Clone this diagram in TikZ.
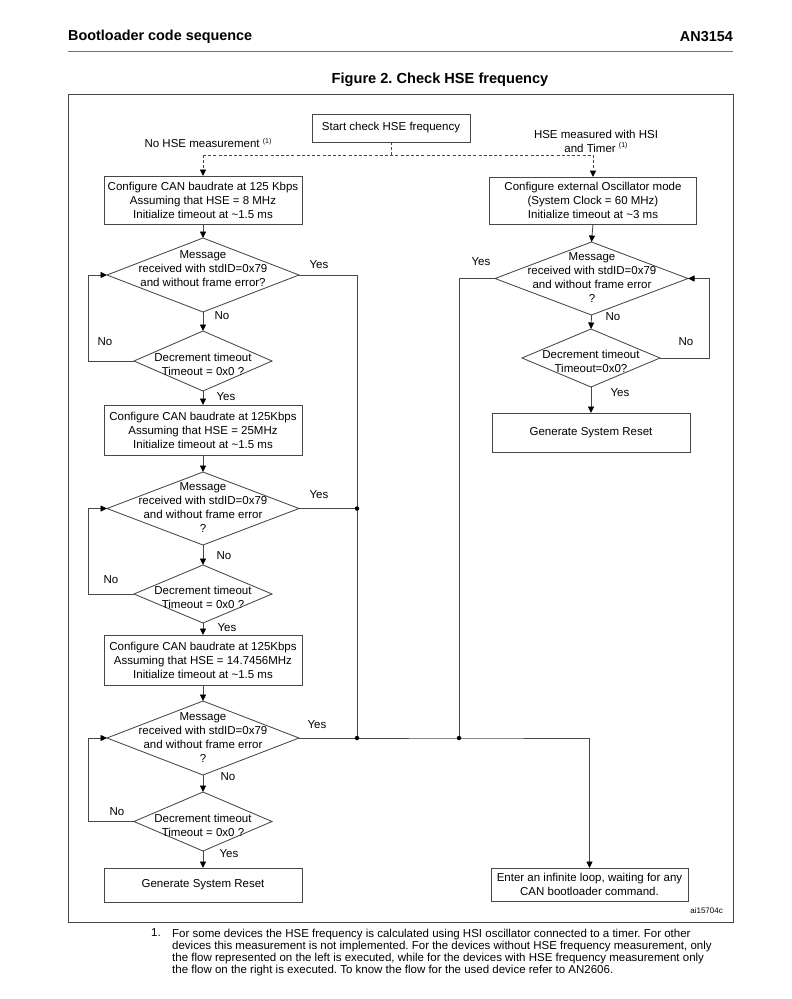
\documentclass[tikz,border=0pt]{standalone}
\usepackage{fontspec}
\setmainfont{Liberation Sans}
\usetikzlibrary{shapes.geometric,arrows.meta}
\frenchspacing
\newcommand\dfont{\fontsize{11.5}{14}\selectfont}
\newcommand\supone{{\fontsize{7}{8}\selectfont\raisebox{4.5pt}{(1)}}}
\begin{document}
\begin{tikzpicture}[x=1pt,y=-1pt,
  ln/.style={draw=black!72, line width=0.85pt},
  tip/.style={-{Triangle[length=6.5pt,width=6pt,fill=black,color=black]}},
  arr/.style={ln, tip},
  dashln/.style={ln, dash pattern=on 3pt off 2.2pt},
  dasharr/.style={dashln, tip},
  box/.style={draw=black!72, line width=0.85pt, rectangle, inner sep=0pt, outer sep=0pt, align=center, font=\dfont, minimum width=198pt},
  dia/.style={draw=black!72, line width=0.85pt, diamond, inner sep=0pt, outer sep=0pt},
  txt/.style={inner sep=0pt, align=center, font=\dfont},
  lab/.style={inner sep=0pt, font=\dfont},
  dot/.style={circle, fill=black, inner sep=0pt, minimum size=4.5pt}
]
\useasboundingbox (0,0) rectangle (792,999);
\fill[white] (0,0) rectangle (792,999);

% header
\node[inner sep=0pt, anchor=west, font=\fontsize{14.4}{16}\selectfont\bfseries] (hdl) at (68,37) {Bootloader code sequence};
\node[inner sep=0pt, anchor=east, font=\fontsize{14.4}{16}\selectfont\bfseries] (hdr) at (733,37) {AN3154};
\draw[draw=black!55, line width=0.9pt] (68,51) -- (733,51);
\node[inner sep=0pt, font=\fontsize{14.6}{16}\selectfont\bfseries] (title) at (440,80) {Figure 2. Check HSE frequency};
\draw[draw=black!72, line width=0.85pt] (68,94) rectangle (733,922);

% start
\node[box, minimum width=158pt, minimum height=28pt] (start) at (391,128) {Start check HSE frequency};
\node[lab] (nohse) at (208,143) {No HSE measurement \supone};
\node[txt] (hsem) at (596,141) {HSE measured with HSI\\and Timer \supone};

% left column
\node[box, minimum height=48pt] (b1) at (203,200) {Configure CAN baudrate at 125 Kbps\\Assuming that HSE = 8 MHz\\Initialize timeout at \textasciitilde1.5 ms};
\node[dia, minimum width=192pt, minimum height=74pt] (d1) at (203,275) {};
\node[txt] (d1t) at (203,269) {Message\\received with stdID=0x79\\and without frame error?};
\node[dia, minimum width=138pt, minimum height=60pt] (c1) at (203,361) {};
\node[txt] (c1t) at (203,364) {Decrement timeout\\Timeout = 0x0 ?};

\node[box, minimum height=50pt] (b2) at (203,430) {Configure CAN baudrate at 125Kbps\\Assuming that HSE = 25MHz\\Initialize timeout at \textasciitilde1.5 ms};
\node[dia, minimum width=192pt, minimum height=73pt] (d2) at (203,508.5) {};
\node[txt] (d2t) at (203,508) {Message\\received with stdID=0x79\\and without frame error\\?};
\node[dia, minimum width=138pt, minimum height=58pt] (c2) at (203,594) {};
\node[txt] (c2t) at (203,597) {Decrement timeout\\Timeout = 0x0 ?};

\node[box, minimum height=50pt] (b3) at (203,660) {Configure CAN baudrate at 125Kbps\\Assuming that HSE = 14.7456MHz\\Initialize timeout at \textasciitilde1.5 ms};
\node[dia, minimum width=192pt, minimum height=74pt] (d3) at (203,738) {};
\node[txt] (d3t) at (203,738) {Message\\received with stdID=0x79\\and without frame error\\?};
\node[dia, minimum width=138pt, minimum height=59pt] (c3) at (203,821.5) {};
\node[txt] (c3t) at (203,825) {Decrement timeout\\Timeout = 0x0 ?};
\node[box, minimum height=34pt] (rl) at (203,885) {Generate System Reset};

% right column
\node[box, minimum width=207pt, minimum height=47pt] (r1) at (593,200.5) {Configure external Oscillator mode\\(System Clock = 60 MHz)\\Initialize timeout at \textasciitilde3 ms};
\node[dia, minimum width=193pt, minimum height=73pt] (dr) at (591.5,278.5) {};
\node[txt] (drt) at (592,278) {Message\\received with stdID=0x79\\and without frame error\\?};
\node[dia, minimum width=138pt, minimum height=58pt] (cr) at (591,358) {};
\node[txt] (crt) at (591,361) {Decrement timeout\\Timeout=0x0?};
\node[box, minimum height=39pt] (rr) at (591,432.5) {Generate System Reset};
\node[box, minimum width=197pt, minimum height=33pt] (inf) at (589.5,884.5) {Enter an infinite loop, waiting for any\\CAN bootloader command.};

\node[inner sep=0pt, anchor=east, font=\fontsize{8}{9}\selectfont] (ai) at (723,911) {ai15704c};

% coordinates
\coordinate (jt) at (391,155);
\coordinate (jl) at (203,155);
\coordinate (jr) at (593,155);
\coordinate (lx) at (88,0);
\coordinate (rx) at (709,0);
\coordinate (ja) at (357,738);
\coordinate (jb) at (459,738);
\coordinate (jm) at (357,508.5);

% dashed start
\draw[dashln] (start.south) -- (jt);
\draw[dashln] (jl) -- (jr);
\draw[dasharr] (jl) -- (b1.north);
\draw[dasharr] (jr) -- (r1.north);

% left flow
\draw[arr] (b1.south) -- (d1.north);
\draw[arr] (d1.south) -- (c1.north);
\draw[arr] (c1.south) -- (b2.north);
\draw[arr] (b2.south) -- (d2.north);
\draw[arr] (d2.south) -- (c2.north);
\draw[arr] (c2.south) -- (b3.north);
\draw[arr] (b3.south) -- (d3.north);
\draw[arr] (d3.south) -- (c3.north);
\draw[arr] (c3.south) -- (rl.north);
\draw[arr] (c1.west) -- (c1.west -| lx) |- (d1.west);
\draw[arr] (c2.west) -- (c2.west -| lx) |- (d2.west);
\draw[arr] (c3.west) -- (c3.west -| lx) |- (d3.west);
\draw[ln] (d1.east) -| (ja);
\draw[ln] (d2.east) -- (jm);
\draw[ln] (d3.east) -- (ja);
\draw[arr] (ja) -- (jb) -| (inf.north);

% right flow
\draw[arr] (r1.south) -- (dr.north);
\draw[arr] (dr.south) -- (cr.north);
\draw[arr] (cr.south) -- (rr.north);
\draw[arr] (cr.east) -- (cr.east -| rx) |- (dr.east);
\draw[ln] (dr.west) -| (jb);

\node[dot] (dot1) at (jm) {};
\node[dot] (dot2) at (ja) {};
\node[dot] (dot3) at (jb) {};

% labels
\node[lab] (y1) at (319,265) {Yes};
\node[lab] (y2) at (319,495) {Yes};
\node[lab] (y3) at (317,725) {Yes};
\node[lab] (n1) at (222,316) {No};
\node[lab] (n2) at (224,556) {No};
\node[lab] (n3) at (228,777) {No};
\node[lab] (nl1) at (105,342) {No};
\node[lab] (nl2) at (111,580) {No};
\node[lab] (nl3) at (117,812) {No};
\node[lab] (ys1) at (226,397) {Yes};
\node[lab] (ys2) at (227,628) {Yes};
\node[lab] (ys3) at (229,854) {Yes};
\node[lab] (yr) at (481,262) {Yes};
\node[lab] (nr) at (613,317) {No};
\node[lab] (nrl) at (686,342) {No};
\node[lab] (ysr) at (620,393) {Yes};

% footnote
\node[inner sep=0pt, anchor=north west, font=\fontsize{11.5}{12}\selectfont] (fn1) at (151,928.5) {1.};
\node[inner sep=0pt, anchor=north west, align=left, font=\fontsize{11.5}{12}\selectfont] (fn) at (172,928.5) {For some devices the HSE frequency is calculated using HSI oscillator connected to a timer. For other\\devices this measurement is not implemented. For the devices without HSE frequency measurement, only\\the flow represented on the left is executed, while for the devices with HSE frequency measurement only\\the flow on the right is executed. To know the flow for the used device refer to AN2606.};
\end{tikzpicture}
\end{document}
